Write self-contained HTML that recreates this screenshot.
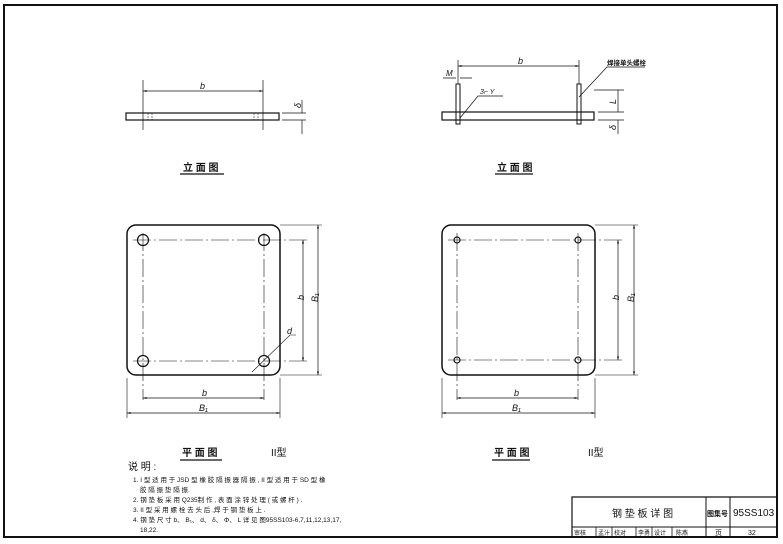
<!DOCTYPE html>
<html><head><meta charset="utf-8"><style>
body{margin:0;background:#fff;width:783px;height:544px;overflow:hidden}
svg{display:block}
text{font-family:"Liberation Sans","Noto Sans CJK SC",sans-serif;fill:#111}
</style></head><body>
<svg width="783" height="544" viewBox="0 0 783 544" xmlns="http://www.w3.org/2000/svg">
<defs>
<marker id="a" viewBox="0 0 10 10" refX="10" refY="5" markerWidth="8" markerHeight="5" orient="auto-start-reverse"><path d="M0,2 L10,5 L0,8z" fill="#111"/></marker>
</defs>
<g fill="none" stroke="#111">
<!-- frame -->
<path d="M4,5 H777 V537 H4 Z" stroke-width="2"/>
<!-- title block -->
<path d="M572,537 V497 H777" stroke-width="1.2"/>
<path d="M572,527 H777 M706,497 V537 M730,497 V537" stroke-width="1"/>
<path d="M596,527V537 M612,527V537 M636,527V537 M652,527V537 M672,527V537" stroke-width="0.8"/>

<!-- left elevation -->
<rect x="126" y="113" width="153" height="7" stroke-width="1.2"/>
<path d="M143,80 V130 M263,80 V130" stroke-width="0.7"/>
<path d="M143,91 H263" stroke-width="0.7" marker-start="url(#a)" marker-end="url(#a)"/>
<path d="M148,113V120 M152,113V120 M258,113V120 M254,113V120" stroke-width="0.5" stroke-dasharray="2,1"/>
<path d="M282,113 H306 M282,120 H306 M302,100 V113 M302,120 V134" stroke-width="0.7"/>
<path d="M180,174 H224" stroke-width="1.2"/>

<!-- right elevation -->
<rect x="442" y="112" width="152" height="8" stroke-width="1.2"/>
<rect x="456" y="84" width="4" height="40" stroke-width="1"/>
<rect x="577" y="84" width="4" height="40" stroke-width="1"/>
<path d="M458,60 V84 M579,60 V84" stroke-width="0.7"/>
<path d="M458,66 H579" stroke-width="0.7" marker-start="url(#a)" marker-end="url(#a)"/>
<path d="M443,78 H456 M460,78 H472" stroke-width="0.7"/>
<path d="M460,118 L478,96 H503" stroke-width="0.7"/>
<path d="M579,97 L607,67 H645" stroke-width="0.7"/>
<path d="M594,90 H624 M598,112 H624 M598,120 H624 M618,90 V112 M618,120 V134" stroke-width="0.7"/>
<path d="M495,174 H533" stroke-width="1.2"/>

<!-- left plan -->
<rect x="127" y="225" width="153" height="150" rx="9" stroke-width="1.5"/>
<path d="M133,240 H310 M133,361 H310 M143,233 V400 M264,233 V400" stroke-width="0.6" stroke-dasharray="18,3,2,3"/>
<circle cx="143" cy="240" r="5.5" stroke-width="1.2"/>
<circle cx="264" cy="240" r="5.5" stroke-width="1.2"/>
<circle cx="143" cy="361" r="5.5" stroke-width="1.2"/>
<circle cx="264" cy="361" r="5.5" stroke-width="1.2"/>
<path d="M280,225 H322 M280,375 H322 M127,378 V418 M280,378 V418" stroke-width="0.6"/>
<path d="M303,240 V361" stroke-width="0.7" marker-start="url(#a)" marker-end="url(#a)"/>
<path d="M318,225 V375" stroke-width="0.7" marker-start="url(#a)" marker-end="url(#a)"/>
<path d="M143,398 H264" stroke-width="0.7" marker-start="url(#a)" marker-end="url(#a)"/>
<path d="M127,413 H280" stroke-width="0.7" marker-start="url(#a)" marker-end="url(#a)"/>
<path d="M252,372 L290,335 H296" stroke-width="0.6"/>
<path d="M180,460 H222" stroke-width="1.2"/>

<!-- right plan -->
<rect x="442" y="225" width="153" height="150" rx="9" stroke-width="1.5"/>
<path d="M448,240 H622 M448,360 H622 M457,233 V400 M578,233 V400" stroke-width="0.6" stroke-dasharray="18,3,2,3"/>
<circle cx="457" cy="240" r="3" stroke-width="1.2"/>
<circle cx="578" cy="240" r="3" stroke-width="1.2"/>
<circle cx="457" cy="360" r="3" stroke-width="1.2"/>
<circle cx="578" cy="360" r="3" stroke-width="1.2"/>
<path d="M595,225 H638 M595,375 H638 M442,378 V418 M595,378 V418" stroke-width="0.6"/>
<path d="M618,240 V360" stroke-width="0.7" marker-start="url(#a)" marker-end="url(#a)"/>
<path d="M634,225 V375" stroke-width="0.7" marker-start="url(#a)" marker-end="url(#a)"/>
<path d="M457,398 H578" stroke-width="0.7" marker-start="url(#a)" marker-end="url(#a)"/>
<path d="M442,413 H595" stroke-width="0.7" marker-start="url(#a)" marker-end="url(#a)"/>
<path d="M492,460 H530" stroke-width="1.2"/>
</g>

<g font-size="9" font-style="italic">
<text x="200" y="89">b</text>
<text x="297" y="108" transform="rotate(-90 299 106)">δ</text>
<text x="518" y="64">b</text>
<text x="446" y="76" font-size="8">M</text>
<text x="480" y="94" font-size="7">3⌐ Y</text>
<text x="612" y="104" transform="rotate(-90 614 102)">L</text>
<text x="612" y="130" transform="rotate(-90 614 128)">δ</text>
<text x="300" y="304" transform="rotate(-90 300 300)">b</text>
<text x="314" y="306" transform="rotate(-90 314 302)">B₁</text>
<text x="287" y="334">d</text>
<text x="202" y="396">b</text>
<text x="199" y="411">B₁</text>
<text x="615" y="304" transform="rotate(-90 615 300)">b</text>
<text x="630" y="306" transform="rotate(-90 630 302)">B₁</text>
<text x="514" y="396">b</text>
<text x="512" y="411">B₁</text>
</g>

<g font-size="10" font-weight="bold">
<text x="183" y="171">立 面 图</text>
<text x="497" y="171">立 面 图</text>
<text x="182" y="456">平 面 图</text>
<text x="494" y="456">平 面 图</text>
</g>
<text x="271" y="456" font-size="10">II型</text>
<text x="588" y="456" font-size="10">II型</text>
<text x="607" y="65" font-size="6.5" font-weight="bold">焊接单头螺栓</text>

<text x="128" y="470" font-size="10">说 明 :</text>
<g font-size="6.5">
<text x="133" y="482">1. I 型 适 用 于 JSD 型 橡 胶 隔 振 器 隔 振 , II 型 适 用 于 SD 型 橡</text>
<text x="140" y="492">胶 隔 振 垫 隔 振.</text>
<text x="133" y="502">2. 钢 垫 板 采 用 Q235制 作 , 表 面 涂 锌 处 理 ( 或 螺 杆 ) .</text>
<text x="133" y="512">3. II 型 采 用 螺 栓 去 头 后 ,焊 于 钢 垫 板 上 .</text>
<text x="133" y="522">4. 钢 垫 尺 寸 b、 B₁、 d、 δ、 Φ、 L 详 见 图95SS103-6,7,11,12,13,17,</text>
<text x="140" y="532">18,22.</text>
</g>

<text x="612" y="517" font-size="10">钢 垫 板 详 图</text>
<text x="707" y="516" font-size="7" font-weight="bold">图集号</text>
<text x="733" y="516" font-size="10">95SS103</text>
<text x="715" y="535" font-size="7">页</text>
<text x="748" y="535" font-size="7">32</text>
<g font-size="6">
<text x="574" y="535">审核</text><text x="598" y="535">孟汁</text><text x="614" y="535">校对</text><text x="638" y="535">李勇</text><text x="654" y="535">设计</text><text x="676" y="535">陈燕</text>
</g>
</svg>
</body></html>
